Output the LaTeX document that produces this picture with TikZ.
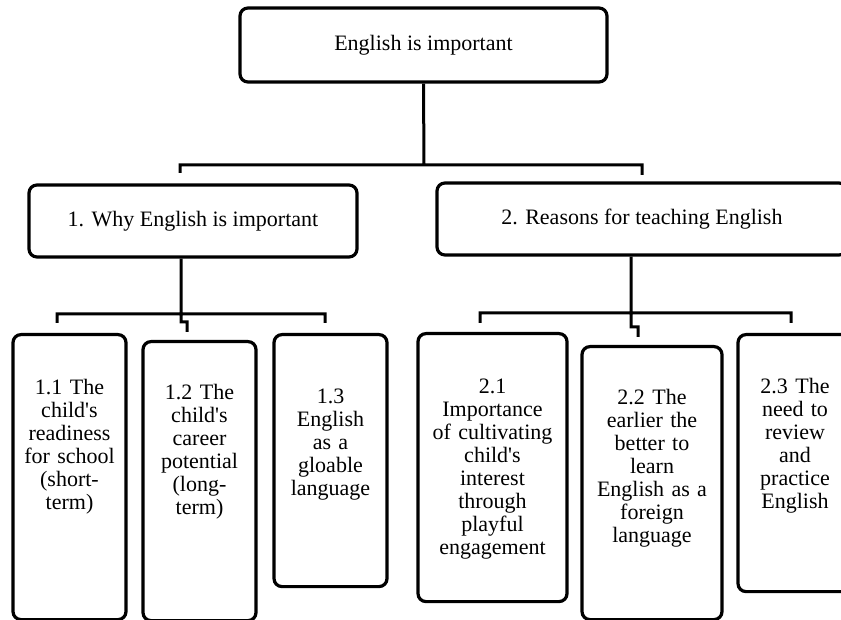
\documentclass[tikz,border=0pt]{standalone}
\usepackage{fontspec}
\setmainfont{Liberation Serif}

\begin{document}
\begin{tikzpicture}[x=1pt, y=-1pt, font=\fontsize{22}{23}\selectfont]
% Setup the styles for the boxes and the lines
\tikzset{box style/.style={draw,
		rounded corners=8pt,
		line width=3.2pt,
		align=center},
	top style/.style={box style, minimum width=367pt, minimum height=74pt},
	mid style/.style={box style, minimum height=72pt},
	leaf style/.style={box style, anchor=north, inner sep=0pt},
	link style/.style={line width=3pt}}
\useasboundingbox (0, 0) rectangle (841, 620);
\clip (0, 0) rectangle (841, 620);

% Draw the boxes
\node[top style] at (423.5, 45) (root) {English is important};
\node[mid style, minimum width=328pt] at (193, 221) (why)     {1. Why English is important};
\node[mid style, minimum width=410pt] at (642, 219) (reasons) {2. Reasons for teaching English};

\node[leaf style, text width=113pt, text height=60pt, text depth=225pt] at (69.5, 333) (why1)
	{1.1 The\\child\textquotesingle s\\readiness\\for school\\(short-\\term)};
\node[leaf style, text width=113pt, text height=58pt, text depth=221pt] at (199.5, 340) (why2)
	{1.2 The\\child\textquotesingle s\\career\\potential\\(long-\\term)};
\node[leaf style, text width=113pt, text height=69pt, text depth=183pt] at (330.5, 333) (why3)
	{1.3\\English\\as a\\gloable\\language};
\node[leaf style, text width=149pt, text height=60pt, text depth=208pt] at (492.5, 332) (reason1)
	{2.1\\Importance\\of cultivating\\child\textquotesingle s\\interest\\through\\playful\\engagement};
\node[leaf style, text width=140pt, text height=58pt, text depth=215pt] at (652, 345) (reason2)
	{2.2 The\\earlier the\\better to\\learn\\English as a\\foreign\\language};
\node[leaf style, text width=114pt, text height=59pt, text depth=198pt] at (795, 333) (reason3)
	{2.3 The\\need to\\review\\and\\practice\\English};

% Points where the lines branch and end
\coordinate (hub)   at (424, 165);
\coordinate (end1)  at (180, 173);
\coordinate (end2)  at (642, 175);
\coordinate (hub1)  at (181, 314);
\coordinate (end11) at (57, 323);
\coordinate (end12) at (187, 332);
\coordinate (end13) at (325, 323);
\coordinate (hub2)  at (631, 313);
\coordinate (end21) at (480, 323);
\coordinate (end22) at (638, 337);
\coordinate (end23) at (791, 323);

% Connect the boxes with lines
\draw[link style]
(root.south)          -- (hub)
(end1)                |- (hub) -| (end2)
(why.south -| hub1)   -- (hub1)
(end11)               |- (hub1) -| (end13)
(hub1)                -- ++(0, 8) -| (end12)
(reasons.south -| hub2) -- (hub2)
(end21)               |- (hub2) -| (end23)
(hub2)                -- ++(0, 14) -| (end22);
\end{tikzpicture}
\end{document}
